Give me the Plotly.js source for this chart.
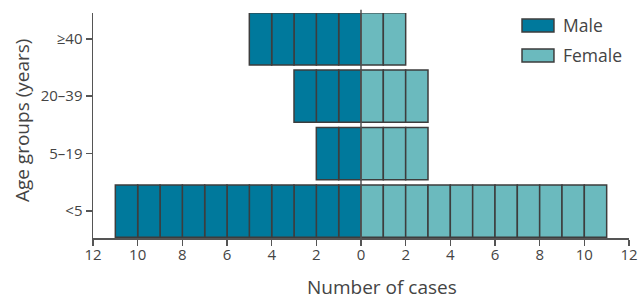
<!DOCTYPE html>
<html>
<head>
<meta charset="utf-8">
<script src="https://cdn.plot.ly/plotly-3.0.1.min.js"></script>
<style>html,body{margin:0;padding:0;background:#fff;}#chart{width:641px;height:300px;}</style>
</head>
<body>
<div id="chart"></div>
<script>
const ageGroups = ["<5", "5–19", "20–39", "≥40"];
const maleCases = [11, 2, 3, 5];
const femaleCases = [11, 3, 3, 2];
const tickValues = [-12, -10, -8, -6, -4, -2, 0, 2, 4, 6, 8, 10, 12];
const tickLabels = ["12", "10", "8", "6", "4", "2", "0", "2", "4", "6", "8", "10", "12"];

const maleColor = "#00799c";
const femaleColor = "#6bbabe";
const edgeColor = "#3d3d3d";
const textColor = "#444444";
const FONT = "Open Sans, Noto Sans, sans-serif";

// one block per case
function blocks(counts, sign) {
  const y = [], x = [], base = [];
  counts.forEach((n, i) => {
    for (let k = 0; k < n; k++) {
      y.push(ageGroups[i]);
      x.push(sign);
      base.push(sign * k);
    }
  });
  return { y, x, base };
}

const m = blocks(maleCases, -1);
const f = blocks(femaleCases, 1);

const traces = [
  { type: "bar", orientation: "h", name: "Male", y: m.y, x: m.x, base: m.base,
    marker: { color: maleColor, line: { color: edgeColor, width: 1.5 } }, hoverinfo: "skip" },
  { type: "bar", orientation: "h", name: "Female", y: f.y, x: f.x, base: f.base,
    marker: { color: femaleColor, line: { color: edgeColor, width: 1.5 } }, hoverinfo: "skip" }
];

const layout = {
  width: 641, height: 300,
  margin: { l: 93, r: 12, t: 13, b: 62 },
  paper_bgcolor: "#fff", plot_bgcolor: "#fff",
  barmode: "overlay", bargap: 0.09,
  showlegend: false,
  font: { family: FONT, color: textColor },
  xaxis: {
    range: [-12, 12], tickvals: tickValues, ticktext: tickLabels,
    showgrid: false, zeroline: false,
    showline: true, linecolor: "#555", linewidth: 1.5,
    ticks: "outside", ticklen: 6, tickcolor: "#555", tickwidth: 1.5,
    ticklabelstandoff: -4,
    tickfont: { size: 15, color: textColor, family: FONT }, fixedrange: true
  },
  yaxis: {
    type: "category", categoryorder: "array", categoryarray: ageGroups,
    range: [-0.47, 3.45],
    showgrid: false, zeroline: false,
    showline: true, linecolor: "#555", linewidth: 1.5,
    ticks: "outside", ticklen: 6, tickcolor: "#555", tickwidth: 1.5,
    tickfont: { size: 15, color: textColor, family: FONT }, fixedrange: true
  },
  shapes: [
    { type: "line", xref: "x", yref: "paper", x0: 0, x1: 0, y0: 0, y1: 1.015,
      line: { color: "#555", width: 1.5 }, layer: "above" },
    { type: "rect", xref: "paper", yref: "paper", x0: 0.8004, x1: 0.860, y0: 0.9156, y1: 0.973,
      fillcolor: maleColor, line: { color: edgeColor, width: 1.5 } },
    { type: "rect", xref: "paper", yref: "paper", x0: 0.8004, x1: 0.860, y0: 0.782, y1: 0.84,
      fillcolor: femaleColor, line: { color: edgeColor, width: 1.5 } }
  ],
  annotations: [
    { xref: "paper", yref: "paper", x: 0.873, y: 0.9467, xanchor: "left", yanchor: "middle",
      text: "Male", showarrow: false, font: { size: 17.5, color: textColor, family: FONT } },
    { xref: "paper", yref: "paper", x: 0.873, y: 0.8133, xanchor: "left", yanchor: "middle",
      text: "Female", showarrow: false, font: { size: 17.5, color: textColor, family: FONT } },
    { xref: "paper", yref: "paper", x: 0.539, y: -0.218, xanchor: "center", yanchor: "middle",
      text: "Number of cases", showarrow: false, font: { size: 19, color: textColor, family: FONT } },
    { xref: "paper", yref: "paper", x: -0.1325, y: 0.524, xanchor: "center", yanchor: "middle",
      text: "Age groups (years)", textangle: -90, showarrow: false, font: { size: 19, color: textColor, family: FONT } }
  ]
};

Plotly.newPlot("chart", traces, layout, { staticPlot: true, displayModeBar: false });
</script>
</body>
</html>
